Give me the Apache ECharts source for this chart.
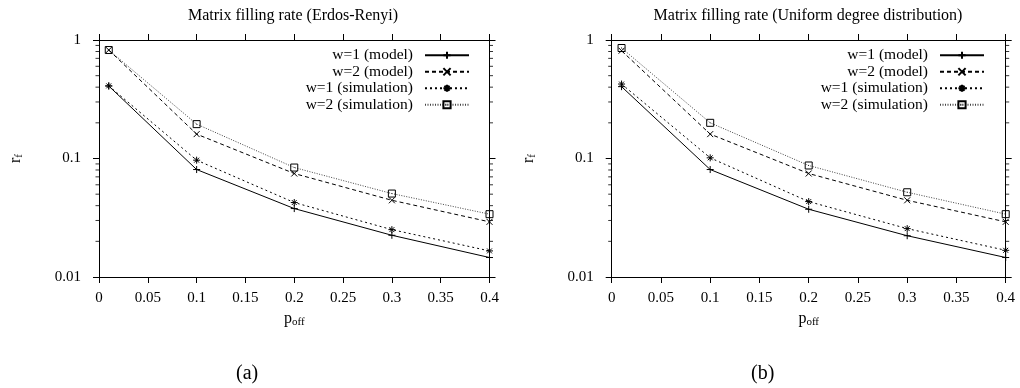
<!DOCTYPE html>
<html>
<head>
<meta charset="utf-8">
<script src="https://cdn.jsdelivr.net/npm/echarts@6/dist/echarts.min.js"></script>
<style>
  html, body { margin: 0; padding: 0; background: #fff; }
  .row { display: flex; width: 1020px; height: 388px; }
  .panel { width: 510px; height: 388px; }
</style>
</head>
<body>
<div class="row">
  <div id="chartA" class="panel"></div>
  <div id="chartB" class="panel"></div>
</div>
<script>
const pOff = [0.01, 0.1, 0.2, 0.3, 0.4];
const seriesNames = ['w=1 (model)', 'w=2 (model)', 'w=1 (simulation)', 'w=2 (simulation)'];

// (a) Erdos-Renyi
const erW1Model = [0.409, 0.0807, 0.0378, 0.0225, 0.0146];
const erW2Model = [0.823, 0.1606, 0.0747, 0.0444, 0.0292];
const erW1Sim = [0.41, 0.0968, 0.0425, 0.0251, 0.0166];
const erW2Sim = [0.823, 0.195, 0.0839, 0.0506, 0.0339];

// (b) Uniform degree distribution
const udW1Model = [0.404, 0.0807, 0.0373, 0.0223, 0.0146];
const udW2Model = [0.812, 0.1606, 0.0747, 0.0444, 0.0292];
const udW1Sim = [0.425, 0.1013, 0.0433, 0.0256, 0.0168];
const udW2Sim = [0.856, 0.2, 0.0873, 0.0519, 0.0339];

const xRange = [0, 0.4];
const yRange = [0.01, 1];
const yMinorTicks = [0.02, 0.03, 0.04, 0.05, 0.06, 0.07, 0.08, 0.09,
                     0.2, 0.3, 0.4, 0.5, 0.6, 0.7, 0.8, 0.9];

const FONT = '"Liberation Serif", "DejaVu Serif", serif';

const STYLES = [
  { symbol: 'path://M0,5L10,5M5,0L5,10', type: 'solid', color: '#000', size: 7 },
  { symbol: 'path://M0,0L10,10M10,0L0,10', type: [4, 3], color: '#000', size: 6 },
  { symbol: 'path://M0,5L10,5M5,0L5,10M1.5,1.5L8.5,8.5M8.5,1.5L1.5,8.5', type: [2, 3], color: '#000', size: 7 },
  { symbol: 'path://M0,0L10,0L10,10L0,10Z M4.5,5L5.5,5', type: [1, 1.5], color: '#444', size: 7 },
];

const subRich = {
  m: { fontFamily: FONT, fontSize: 16, color: '#000' },
  s: { fontFamily: FONT, fontSize: 11, color: '#000', padding: [7, 0, 0, 0] },
};

function buildOption(cfg) {
  const series = cfg.values.map((vals, i) => ({
    name: seriesNames[i],
    type: 'line',
    data: pOff.map((x, j) => [x, vals[j]]),
    symbol: STYLES[i].symbol,
    symbolSize: STYLES[i].size,
    showAllSymbol: true,
    lineStyle: { width: 1, color: STYLES[i].color, type: STYLES[i].type },
    itemStyle: { color: 'none', borderColor: '#000', borderWidth: 1 },
    emphasis: { disabled: true },
    animation: false,
    z: 3,
  }));

  // minor ticks of the log axis, left and mirrored right
  [[xRange[0], -1.75], [xRange[1], 1.75]].forEach(([xv, off]) => {
    series.push({
      type: 'scatter',
      data: yMinorTicks.map((v) => [xv, v]),
      symbol: 'rect',
      symbolSize: [3.5, 1],
      symbolOffset: [off, 0],
      itemStyle: { color: '#000' },
      silent: true,
      clip: false,
      animation: false,
      z: 1,
    });
  });

  const tickStyle = { show: true, length: 6, lineStyle: { color: '#000', width: 1 } };
  const lineStyle = { show: true, onZero: false, lineStyle: { color: '#000', width: 1 } };

  return {
    backgroundColor: '#fff',
    animation: false,
    title: {
      text: cfg.title,
      left: cfg.titleX,
      top: 3,
      textAlign: 'center',
      textStyle: { fontFamily: FONT, fontSize: 16, fontWeight: 'normal', color: '#000' },
    },
    legend: {
      data: seriesNames,
      orient: 'vertical',
      align: 'right',
      right: cfg.legendRight,
      top: 42,
      itemWidth: 44,
      itemHeight: 9,
      itemGap: 0,
      selectedMode: false,
      textStyle: { fontFamily: FONT, fontSize: 15.5, color: '#000', lineHeight: 16.5, padding: [0, 7, 0, 0] },
    },
    grid: { left: cfg.left, right: cfg.right, top: 40, bottom: 111 },
    xAxis: [
      {
        type: 'value', min: xRange[0], max: xRange[1], interval: 0.05,
        name: '{m|p}{s|off}', nameLocation: 'middle', nameGap: 33,
        nameTextStyle: { rich: subRich },
        axisLine: lineStyle, axisTick: tickStyle, splitLine: { show: false },
        axisLabel: { fontFamily: FONT, fontSize: 15, color: '#000', margin: 14 },
      },
      {
        type: 'value', position: 'top', min: xRange[0], max: xRange[1], interval: 0.05,
        axisLine: lineStyle, axisTick: tickStyle, splitLine: { show: false },
        axisLabel: { show: false },
      },
    ],
    yAxis: [
      {
        type: 'log', logBase: 10, min: yRange[0], max: yRange[1],
        name: '{m|r}{s|f}', nameLocation: 'middle', nameGap: 74,
        nameTextStyle: { rich: subRich },
        axisLine: lineStyle, axisTick: tickStyle, splitLine: { show: false },
        axisLabel: { fontFamily: FONT, fontSize: 15, color: '#000', margin: 18 },
      },
      {
        type: 'log', logBase: 10, position: 'right', min: yRange[0], max: yRange[1],
        axisLine: lineStyle, axisTick: tickStyle, splitLine: { show: false },
        axisLabel: { show: false },
      },
    ],
    graphic: [{
      type: 'text',
      left: cfg.captionX,
      top: 364,
      style: { text: cfg.caption, fontFamily: FONT, fontSize: 20, fill: '#000' },
    }],
    series,
  };
}

const chartA = echarts.init(document.getElementById('chartA'), null, { renderer: 'canvas' });
chartA.setOption(buildOption({
  title: 'Matrix filling rate (Erdos-Renyi)',
  titleX: 288,
  left: 96, right: 20.5,
  legendRight: 35,
  caption: '(a)', captionX: 236,
  values: [erW1Model, erW2Model, erW1Sim, erW2Sim],
}));

const chartB = echarts.init(document.getElementById('chartB'), null, { renderer: 'canvas' });
chartB.setOption(buildOption({
  title: 'Matrix filling rate (Uniform degree distribution)',
  titleX: 293,
  left: 101.7, right: 14.3,
  legendRight: 30,
  caption: '(b)', captionX: 241,
  values: [udW1Model, udW2Model, udW1Sim, udW2Sim],
}));
</script>
</body>
</html>
